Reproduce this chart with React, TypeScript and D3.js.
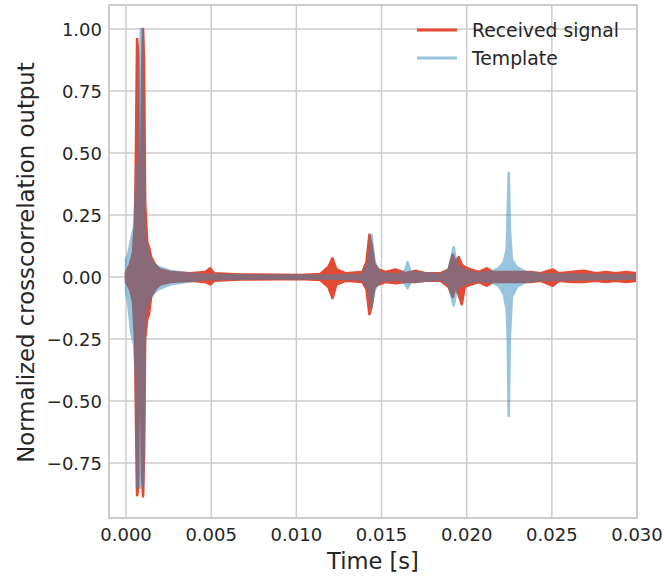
import React from "react";
import * as d3 from "d3";

// ---- Data ----
// Received signal: envelope of the dense crosscorrelation trace
const receivedTime = [
  0.0, 0.000235, 0.00041, 0.00053, 0.00059, 0.00065, 0.00071, 0.00076, 0.00082, 0.00088,
  0.00094, 0.001, 0.00106, 0.00112, 0.00124, 0.00135, 0.00147, 0.00171, 0.002, 0.00259,
  0.00376, 0.00465, 0.00494, 0.00518, 0.00671, 0.01024, 0.01141, 0.01188, 0.01212, 0.01235,
  0.01288, 0.01388, 0.01412, 0.01429, 0.01441, 0.01459, 0.01482, 0.01524, 0.01582, 0.01641,
  0.017, 0.01759, 0.01847, 0.01894, 0.01918, 0.01935, 0.01953, 0.01971, 0.01988, 0.02024,
  0.02071, 0.02118, 0.02153, 0.022, 0.02259, 0.02318, 0.02376, 0.02435, 0.02506, 0.02541,
  0.02612, 0.02688, 0.02759, 0.02818, 0.02876, 0.02935, 0.03,
];
const receivedHi = [
  0.02, 0.05, 0.1, 0.22, 0.55, 0.96, 0.9, 0.3, 0.3, 0.35,
  0.8, 1.0, 0.85, 0.3, 0.14, 0.12, 0.08, 0.05, 0.03, 0.02,
  0.015, 0.02, 0.035, 0.015, 0.01, 0.008, 0.012, 0.04, 0.075, 0.03,
  0.015, 0.02, 0.06, 0.17, 0.13, 0.05, 0.03, 0.02, 0.03, 0.015,
  0.025, 0.015, 0.015, 0.03, 0.09, 0.06, 0.08, 0.05, 0.04, 0.03,
  0.02, 0.035, 0.02, 0.02, 0.02, 0.02, 0.02, 0.015, 0.03, 0.015,
  0.02, 0.025, 0.015, 0.02, 0.015, 0.02, 0.015,
];
const receivedLo = [
  -0.02, -0.05, -0.1, -0.25, -0.6, -0.88, -0.85, -0.35, -0.3, -0.45,
  -0.8, -0.885, -0.7, -0.25, -0.17, -0.15, -0.08, -0.05, -0.03, -0.02,
  -0.015, -0.02, -0.03, -0.015, -0.01, -0.008, -0.012, -0.04, -0.085, -0.03,
  -0.015, -0.02, -0.05, -0.15, -0.12, -0.04, -0.03, -0.02, -0.025, -0.02,
  -0.02, -0.015, -0.015, -0.04, -0.08, -0.04, -0.07, -0.11, -0.04, -0.03,
  -0.02, -0.035, -0.02, -0.02, -0.02, -0.02, -0.02, -0.015, -0.035, -0.015,
  -0.02, -0.02, -0.015, -0.02, -0.015, -0.02, -0.015,
];

// Template: envelope of the dense crosscorrelation trace
const templateTime = [
  0.0, 0.00012, 0.0003, 0.00047, 0.00059, 0.00065, 0.00071, 0.00076, 0.00082, 0.00088,
  0.00094, 0.001, 0.00106, 0.00112, 0.0013, 0.00153, 0.00188, 0.00259, 0.0035, 0.00435,
  0.0079, 0.012, 0.01388, 0.01424, 0.01441, 0.01459, 0.01494, 0.01612, 0.01641, 0.01653,
  0.0167, 0.01847, 0.01894, 0.01924, 0.01941, 0.01976, 0.02053, 0.02141, 0.02188, 0.02218,
  0.02235, 0.02241, 0.02247, 0.02253, 0.02265, 0.02294, 0.02347, 0.02435, 0.02788, 0.03,
];
const templateHi = [
  0.07, 0.09, 0.15, 0.2, 0.35, 0.45, 0.3, 0.6, 0.91, 1.0,
  1.0, 0.6, 0.3, 0.15, 0.1, 0.06, 0.04, 0.025, 0.015, 0.01,
  0.006, 0.006, 0.01, 0.06, 0.17, 0.06, 0.015, 0.01, 0.03, 0.06,
  0.02, 0.01, 0.03, 0.12, 0.05, 0.03, 0.015, 0.02, 0.035, 0.06,
  0.11, 0.25, 0.42, 0.2, 0.07, 0.04, 0.02, 0.012, 0.008, 0.006,
];
const templateLo = [
  -0.06, -0.1, -0.22, -0.27, -0.4, -0.85, -0.8, -0.6, -0.85, -0.75,
  -0.6, -0.84, -0.5, -0.15, -0.1, -0.07, -0.05, -0.03, -0.02, -0.01,
  -0.006, -0.006, -0.01, -0.05, -0.12, -0.05, -0.015, -0.01, -0.03, -0.045,
  -0.02, -0.01, -0.03, -0.115, -0.05, -0.03, -0.015, -0.02, -0.035, -0.07,
  -0.13, -0.24, -0.56, -0.25, -0.08, -0.04, -0.02, -0.012, -0.008, -0.006,
];

const xTicks = [0.0, 0.005, 0.01, 0.015, 0.02, 0.025, 0.03];
const yTicks = [-0.75, -0.5, -0.25, 0.0, 0.25, 0.5, 0.75, 1.0];
const seriesNames = ["Received signal", "Template"];

const W = 664;
const H = 577;
const L = 109, R = 637, T = 5, B = 518;
const FONT = "'DejaVu Sans', sans-serif";
const TEXT = "#262626";
const GRID = "#cccccc";
const RED = "#E24A33";
const BLUE = "#348ABD";

export default function App() {
  const x = d3.scaleLinear().domain([-0.001, 0.03]).range([L, R]);
  const y = d3.scaleLinear().domain([-0.972, 1.097]).range([B, T]);
  const fx = d3.format(".3f");
  const fy = d3.format(".2f");

  const band = (time: number[], hi: number[], lo: number[]) =>
    d3
      .area<number>()
      .x((i) => x(time[i]))
      .y0((i) => y(lo[i]))
      .y1((i) => y(hi[i]))(d3.range(time.length)) || "";

  const redPath = band(receivedTime, receivedHi, receivedLo);
  const bluePath = band(templateTime, templateHi, templateLo);

  return (
    <div style={{ position: "absolute", left: 0, top: 0 }}>
      <svg width={W} height={H} style={{ display: "block", background: "#fff" }}>
        <defs>
          <clipPath id="plot">
            <rect x={L} y={T} width={R - L} height={B - T} />
          </clipPath>
        </defs>
        {/* grid */}
        {xTicks.map((t) => (
          <line key={"gx" + t} x1={x(t)} x2={x(t)} y1={T} y2={B} stroke={GRID} strokeWidth={1.5} />
        ))}
        {yTicks.map((t) => (
          <line key={"gy" + t} x1={L} x2={R} y1={y(t)} y2={y(t)} stroke={GRID} strokeWidth={1.5} />
        ))}
        {/* data */}
        <g clipPath="url(#plot)">
          <path d={redPath} fill={RED} stroke={RED} strokeWidth={2.6} strokeLinejoin="round" />
          <g opacity={0.5}>
            <path d={bluePath} fill={BLUE} stroke={BLUE} strokeWidth={2.6} strokeLinejoin="round" />
          </g>
        </g>
        {/* frame */}
        <rect x={L} y={T} width={R - L} height={B - T} fill="none" stroke={GRID} strokeWidth={2} />
        {/* tick labels */}
        {xTicks.map((t) => (
          <text key={"tx" + t} x={x(t)} y={541} textAnchor="middle" fontFamily={FONT} fontSize={18} fill={TEXT}>
            {fx(t)}
          </text>
        ))}
        {yTicks.map((t) => (
          <text key={"ty" + t} x={102} y={y(t) + 6.7} textAnchor="end" fontFamily={FONT} fontSize={18} fill={TEXT}>
            {fy(t)}
          </text>
        ))}
        {/* axis labels */}
        <text x={(L + R) / 2} y={569} textAnchor="middle" fontFamily={FONT} fontSize={22.6} fill={TEXT}>
          Time [s]
        </text>
        <text
          transform={`translate(34, ${(T + B) / 2 + 1}) rotate(-90)`}
          textAnchor="middle"
          fontFamily={FONT}
          fontSize={22.8}
          fill={TEXT}
        >
          Normalized crosscorrelation output
        </text>
        {/* legend */}
        {seriesNames.map((name, i) => (
          <g key={name}>
            <line
              x1={417}
              x2={457}
              y1={30 + i * 28}
              y2={30 + i * 28}
              stroke={i === 0 ? RED : BLUE}
              strokeOpacity={i === 0 ? 1 : 0.5}
              strokeWidth={3}
            />
            <text x={472} y={30 + i * 28 + 6.9} fontFamily={FONT} fontSize={18.8} fill={TEXT}>
              {name}
            </text>
          </g>
        ))}
      </svg>
    </div>
  );
}
